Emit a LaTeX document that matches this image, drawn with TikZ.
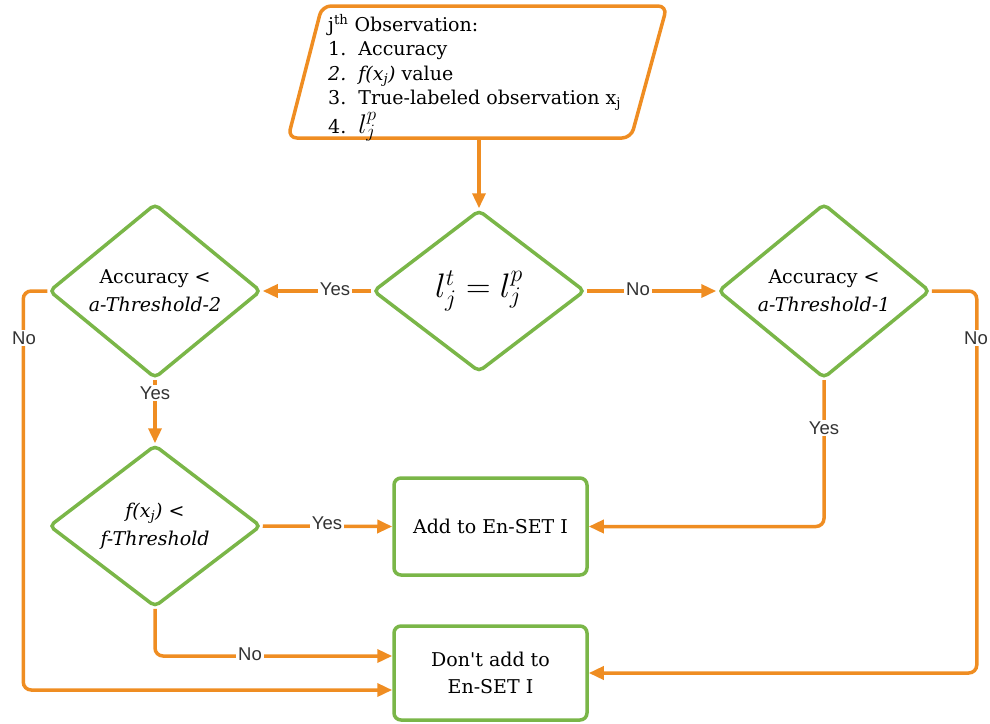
\documentclass[tikz,border=0pt]{standalone}
\usepackage{fix-cm}
\usepackage{fontspec}
\setmainfont{DejaVu Serif}
\setsansfont{Liberation Sans}
\usetikzlibrary{shapes.geometric,arrows.meta}
\definecolor{lorange}{HTML}{EF8D22}
\definecolor{lgreen}{HTML}{7AB648}
\definecolor{lgray}{HTML}{333333}
\begin{document}
\begin{tikzpicture}[x=1pt,y=-1pt,
  dec/.style={diamond, draw=lgreen, line width=3.5pt, minimum width=212pt, minimum height=162pt,
    inner sep=0pt, rounded corners=5pt, align=center, font=\fontsize{19}{28}\selectfont},
  endbox/.style={rectangle, draw=lgreen, line width=3.5pt, minimum width=193pt, rounded corners=7pt,
    align=center, font=\fontsize{19}{27}\selectfont},
  conn/.style={draw=lorange, line width=3.5pt, -{Triangle[length=15pt,width=13pt]}, rounded corners=8pt},
  lbl/.style={fill=white, font=\sffamily\fontsize{18.5}{20}\selectfont, text=lgray, inner sep=2pt},
  inbox/.style={draw=lorange, line width=3.5pt, rounded corners=9pt}
]
\useasboundingbox (0,0) rectangle (990,723);

% input parallelogram
\draw[inbox] (322,6) -- (667,6) -- (631,138) -- (288,138) -- cycle;
\node[anchor=north west, align=left, inner sep=0pt, font=\fontsize{19}{24.5}\selectfont] (obs) at (328,14)
  {j\textsuperscript{th} Observation:\\
   1.\ \ Accuracy\\
   \textit{2.\ \ f(x\textsubscript{j})} value\\
   3.\ \ True-labeled observation x\textsubscript{j}\\
   4.\ \ {\fontsize{27}{24.5}\selectfont$l^p_j$}};
\coordinate (pb) at (479,138);

% decisions
\node[dec, font=\fontsize{34}{36}\selectfont] (d0) at (479,291) {$l^t_j = l^p_j$};
\node[dec] (d1) at (155,291) {Accuracy <\\ \textit{a-Threshold-2}};
\node[dec] (d2) at (824,291) {Accuracy <\\ \textit{a-Threshold-1}};
\node[dec] (d3) at (155,526) {\textit{f(x\textsubscript{j})} <\\ \textit{f-Threshold}};

% results
\node[endbox, minimum height=97pt] (b1) at (490.5,526.5) {Add to En-SET I};
\node[endbox, minimum height=94pt] (b2) at (490.5,673) {Don\textquotesingle t add to\\ En-SET I};

% connectors
\draw[conn] (pb) -- (d0.north);
\draw[conn] (d0.west) -- (d1.east);
\draw[conn] (d0.east) -- (d2.west);
\draw[conn] (d1.south) -- (d3.north);
\draw[conn] (d1.west) -- ++(-24,0) |- ([yshift=-17pt]b2.west);
\draw[conn] (d2.east) -- ++(45,0) |- (b2.east);
\draw[conn] (d2.south) |- (b1.east);
\draw[conn] (d3.east) -- (b1.west);
\draw[conn] (d3.south) |- ([yshift=17pt]b2.west);

% labels
\node[lbl] (l1) at (335,289) {Yes};
\node[lbl] (l2) at (638,289) {No};
\node[lbl] (l3) at (155,393) {Yes};
\node[lbl] (l4) at (24,338) {No};
\node[lbl] (l5) at (976,338) {No};
\node[lbl] (l6) at (824,428) {Yes};
\node[lbl] (l7) at (327,523) {Yes};
\node[lbl] (l8) at (250,654) {No};
\end{tikzpicture}
\end{document}
